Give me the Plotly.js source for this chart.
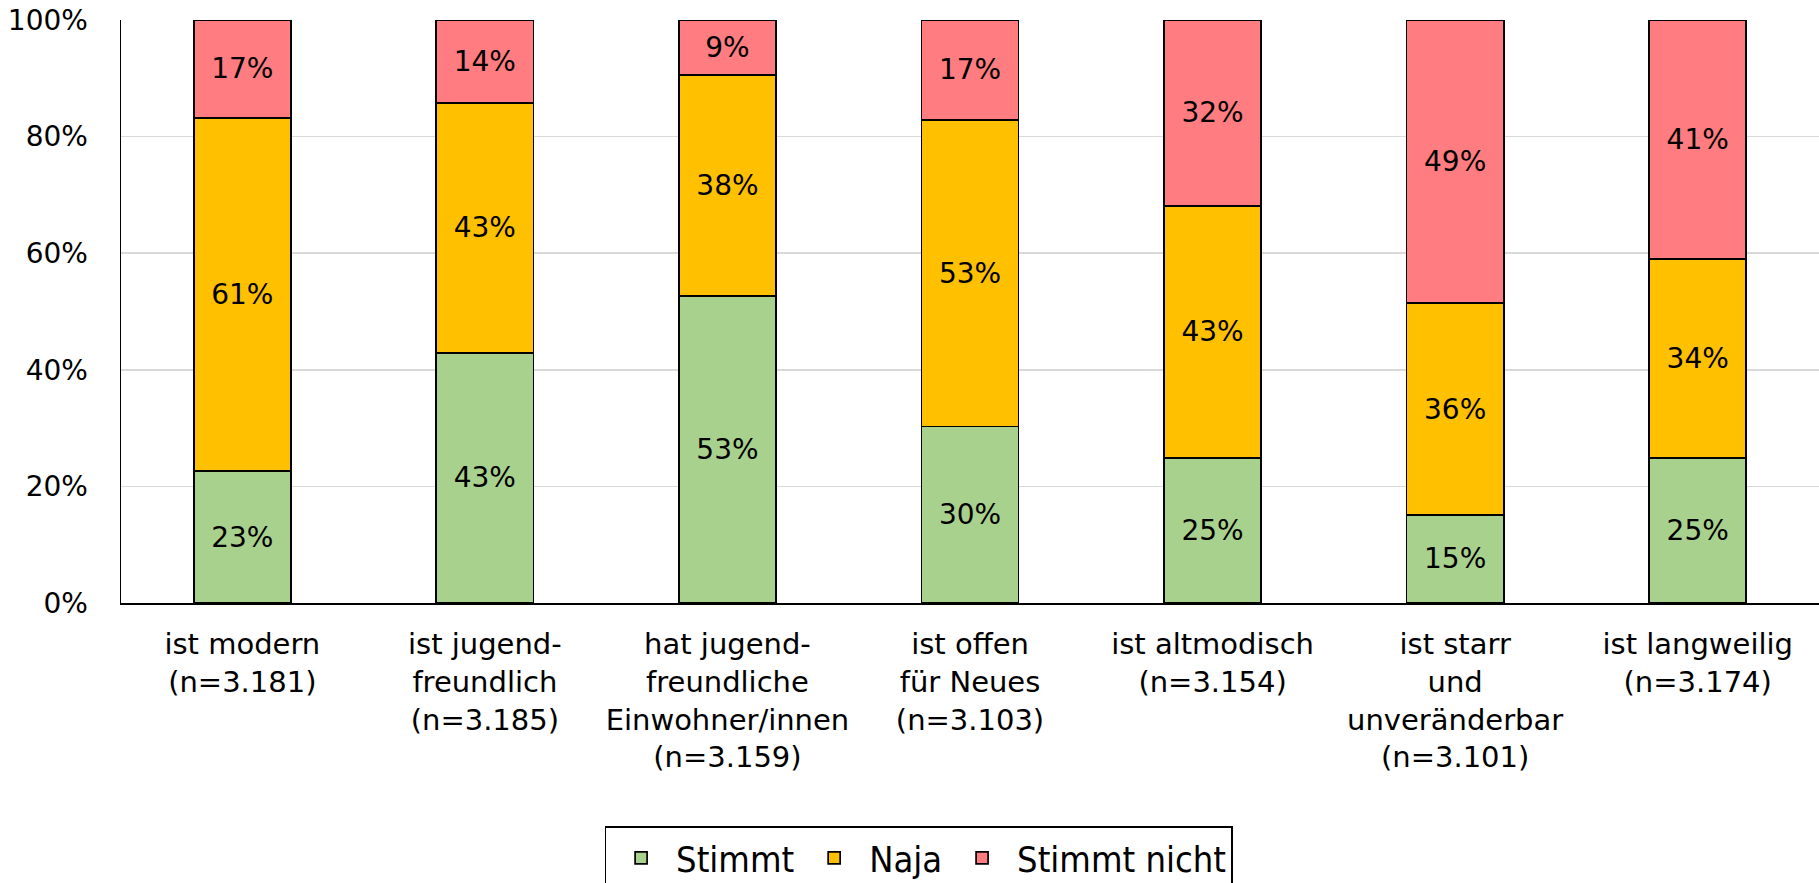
<!DOCTYPE html>
<html>
<head>
<meta charset="utf-8">
<script src="https://cdn.plot.ly/plotly-3.0.1.min.js"></script>
<style>
  html, body { margin: 0; padding: 0; background: #fff; }
  #plot { width: 1819px; height: 883px; }
</style>
</head>
<body>
<div id="plot"></div>
<script>
const categories = [
  "ist modern<br>(n=3.181)",
  "ist jugend-<br>freundlich<br>(n=3.185)",
  "hat jugend-<br>freundliche<br>Einwohner/innen<br>(n=3.159)",
  "ist offen<br>für Neues<br>(n=3.103)",
  "ist altmodisch<br>(n=3.154)",
  "ist starr<br>und<br>unveränderbar<br>(n=3.101)",
  "ist langweilig<br>(n=3.174)"
];
const stimmt = [22.6, 42.9, 52.6, 30.3, 24.9, 15.1, 24.9];
const naja = [60.6, 42.9, 38.0, 52.6, 43.2, 36.3, 34.1];
const stimmtNicht = [16.8, 14.2, 9.4, 17.1, 31.9, 48.6, 41.0];
const yTicks = [0, 20, 40, 60, 80, 100];

const fontFamily = "DejaVu Sans, sans-serif";
const legendFont = "DejaVu Sans Condensed, DejaVu Sans, sans-serif";

function makeTrace(values, name, color) {
  return {
    type: "bar",
    x: categories,
    y: values,
    name: name,
    marker: {
      color: color,
      line: { color: "#000000", width: 1.7 },
    },
    texttemplate: "%{y:.0f}%",
    textposition: "inside",
    insidetextanchor: "middle",
    textangle: 0,
    constraintext: "none",
    textfont: { family: fontFamily, size: 28, color: "#000000" },
    hoverinfo: "skip",
  };
}

const traces = [
  makeTrace(stimmt, "Stimmt", "#A9D18E"),
  makeTrace(naja, "Naja", "#FFC000"),
  makeTrace(stimmtNicht, "Stimmt nicht", "#FF7C80"),
];

const layout = {
  barmode: "stack",
  bargap: 0.6,
  width: 1819,
  height: 883,
  margin: { l: 121, r: 0, t: 20, b: 280 },
  paper_bgcolor: "#ffffff",
  plot_bgcolor: "#ffffff",
  font: { family: fontFamily, size: 28, color: "#000000" },
  xaxis: {
    type: "category",
    showline: true,
    linecolor: "#000000",
    linewidth: 1.5,
    showgrid: false,
    ticks: "",
    tickfont: { family: fontFamily, size: 29, color: "#000000" },
    ticklabelstandoff: 15,
  },
  yaxis: {
    range: [0, 100],
    tickvals: yTicks,
    ticktext: yTicks.map((v) => v + "%"),
    showline: true,
    linecolor: "#000000",
    linewidth: 1.5,
    showgrid: true,
    gridcolor: "#d9d9d9",
    gridwidth: 1.5,
    zeroline: false,
    ticks: "",
    tickfont: { family: fontFamily, size: 28, color: "#000000" },
    ticklabelstandoff: 26,
  },
  legend: {
    orientation: "h",
    xref: "container",
    yref: "container",
    x: 0.505,
    xanchor: "center",
    y: 0.064,
    yanchor: "top",
    bordercolor: "#000000",
    borderwidth: 1.5,
    itemwidth: 60,
    font: { family: legendFont, size: 36, color: "#000000" },
    traceorder: "normal",
  },
  showlegend: true,
};

Plotly.newPlot("plot", traces, layout, { displayModeBar: false, staticPlot: true });
</script>
</body>
</html>
